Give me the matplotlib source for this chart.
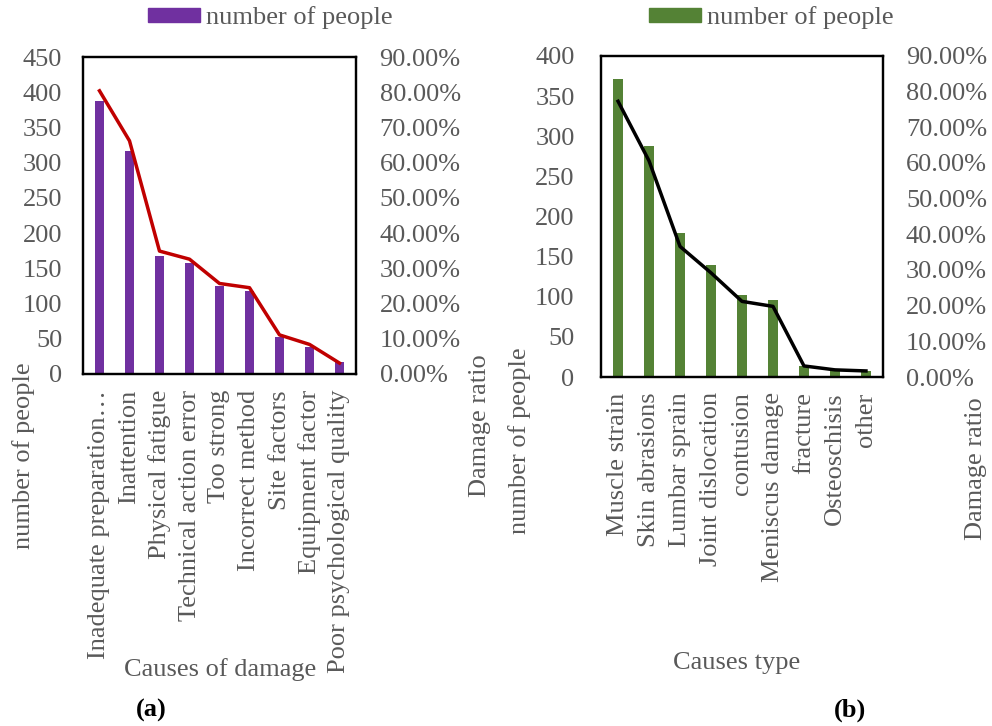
import matplotlib
matplotlib.use("Agg")
import matplotlib.pyplot as plt
from matplotlib.ticker import FixedLocator
from matplotlib.patches import Patch

plt.rcParams['font.family'] = ['Liberation Serif', 'DejaVu Serif']

# ---- data ----
causes_a = ["Inadequate preparation…", "Inattention", "Physical fatigue",
            "Technical action error", "Too strong", "Incorrect method",
            "Site factors", "Equipment factor", "Poor psychological quality"]
people_a = [387, 317, 168, 157, 125, 118, 52, 39, 17]
ratio_a = [80.4, 66.2, 34.9, 32.6, 25.7, 24.5, 11.1, 8.4, 3.1]

causes_b = ["Muscle strain", "Skin abrasions", "Lumbar sprain", "Joint dislocation",
            "contusion", "Meniscus damage", "fracture", "Osteoschisis", "other"]
people_b = [371, 288, 180, 139, 102, 96, 14, 9, 8]
ratio_b = [77.3, 60.6, 36.6, 29.2, 21.2, 19.8, 3.1, 2.0, 1.7]

left_ticks_a = [0, 50, 100, 150, 200, 250, 300, 350, 400, 450]
left_ticks_b = [0, 50, 100, 150, 200, 250, 300, 350, 400]
right_ticks = [0, 10, 20, 30, 40, 50, 60, 70, 80, 90]

GRAY = "#595959"
FS = 19

fig = plt.figure(figsize=(9.92, 7.26), dpi=100)


def panel(rect, cats, people, ratio, lticks, bar_color, line_color, lpad, rpad, bpad):
    ax = fig.add_axes(rect)
    x = list(range(len(cats)))
    ax.bar(x, people, width=0.3, color=bar_color, zorder=2)
    ax.set_xlim(-0.55, len(cats) - 0.45)
    ax.set_ylim(0, lticks[-1])
    ax.yaxis.set_major_locator(FixedLocator(lticks))
    ax.set_yticklabels([str(t) for t in lticks])
    ax.set_xticks(x)
    ax.set_xticklabels(cats, rotation=90)
    ax.tick_params(axis='y', length=0, pad=lpad, labelsize=FS, labelcolor=GRAY)
    ax.tick_params(axis='x', length=0, pad=bpad, labelsize=FS, labelcolor=GRAY)
    for s in ax.spines.values():
        s.set_linewidth(1.6)
        s.set_color("black")
    ax2 = ax.twinx()
    ax2.plot(x, ratio, color=line_color, lw=2.5, zorder=3)
    ax2.set_ylim(0, 90)
    ax2.yaxis.set_major_locator(FixedLocator(right_ticks))
    ax2.set_yticklabels([f"{t:.2f}%" for t in right_ticks])
    ax2.tick_params(axis='y', length=0, pad=rpad, labelsize=FS, labelcolor=GRAY)
    for s in ax2.spines.values():
        s.set_linewidth(1.6)
    return ax, ax2


axa, axa2 = panel([83/992, 1-374/726, (356-83)/992, (374-57)/726],
                  causes_a, people_a, ratio_a, left_ticks_a,
                  "#7030A0", "#C00000", 15, 17, 11.5)
axb, axb2 = panel([601/992, 1-377/726, (883-601)/992, (377-56)/726],
                  causes_b, people_b, ratio_b, left_ticks_b,
                  "#548235", "black", 19, 16.5, 11)

# axis titles
fig.text(24/992, 1-456/726, "number of people", rotation=90, ha='center', va='center',
         fontsize=FS, color=GRAY)
fig.text(480/992, 1-426/726, "Damage ratio", rotation=90, ha='center', va='center',
         fontsize=FS, color=GRAY)
fig.text(220/992, 1-670/726, "Causes of damage", ha='center', va='center',
         fontsize=FS, color=GRAY)
fig.text(520/992, 1-441/726, "number of people", rotation=90, ha='center', va='center',
         fontsize=FS, color=GRAY)
fig.text(976/992, 1-469/726, "Damage ratio", rotation=90, ha='center', va='center',
         fontsize=FS, color=GRAY)
fig.text(737/992, 1-663/726, "Causes type", ha='center', va='center',
         fontsize=FS, color=GRAY)

fig.text(151/992, 1-710/726, "(a)", ha='center', va='center', fontsize=19,
         fontweight='bold', color='black')
fig.text(850/992, 1-710/726, "(b)", ha='center', va='center', fontsize=19,
         fontweight='bold', color='black')

# legends
for cx, col in [(270/992, "#7030A0"), (771/992, "#548235")]:
    leg = fig.legend(handles=[Patch(color=col, label="number of people")],
                     loc='center', bbox_to_anchor=(cx, 1-18/726), frameon=False,
                     fontsize=FS, handlelength=1.97, handleheight=0.42,
                     handletextpad=0.23, borderpad=0)
    for t in leg.get_texts():
        t.set_color(GRAY)

fig.savefig("out.png", dpi=100)
